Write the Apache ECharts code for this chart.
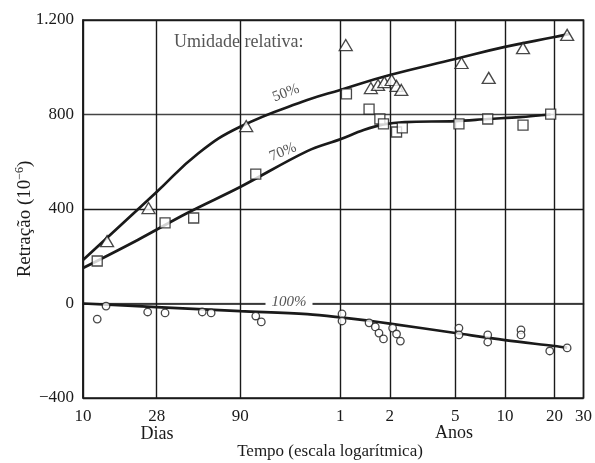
<!DOCTYPE html>
<html>
<head>
<meta charset="utf-8">
<script src="https://cdn.jsdelivr.net/npm/echarts@6/dist/echarts.min.js"></script>
<style>
  html, body { margin: 0; background: #fff; }
  #chart { width: 595px; height: 463px; }
</style>
</head>
<body>
<div id="chart"></div>
<script>
// tempo em dias (eixo logarítmico)
const xTickValues = [10, 28, 90, 365, 730, 1825, 3650, 7300, 10950];
const xTickLabels = ["10", "28", "90", "1", "2", "5", "10", "20", "30"];
const yTickValues = [-400, 0, 400, 800, 1200];
const yTickLabels = ["\u2212400", "0", "400", "800", "1.200"];

// pontos medidos [dias, retração]
const tri50 = [
  [14, 264], [25, 404], [98, 751], [394, 1094], [560, 912], [619, 925],
  [676, 937], [749, 946], [802, 921], [857, 904], [1990, 1018], [2910, 955],
  [4700, 1081], [8710, 1137],
];
const sq70 = [
  [12.2, 180], [31.5, 341], [47, 362], [112, 548], [398, 887], [546, 823],
  [635, 781], [668, 760], [802, 726], [869, 743], [1919, 760], [2870, 781],
  [4700, 755], [6920, 802],
];
const circ100 = [
  [12.2, -66], [13.8, -11], [24.7, -36], [31.5, -40], [53, -36], [60, -40],
  [112, -53], [121, -78], [374, -44], [374, -74], [546, -82], [596, -99],
  [627, -125], [668, -150], [759, -104], [802, -129], [846, -159],
  [1919, -104], [1919, -133], [2870, -133], [2870, -163], [4570, -112],
  [4570, -133], [6830, -201], [8710, -188],
];

// curvas ajustadas
const curve50 = [
  [10, 184], [28, 472], [50, 635], [90, 748], [230, 861], [365, 904],
  [730, 967], [1825, 1035], [3650, 1086], [7300, 1128], [9020, 1141],
];
const curve70 = [
  [10, 150], [21.5, 269], [43, 383], [90, 493], [230, 645], [365, 695],
  [506, 734], [668, 758], [900, 768], [1825, 772], [2870, 781],
  [4500, 789], [6920, 800],
];
const curve100 = [
  [10, 0], [28, -15], [90, -32], [230, -45], [365, -59], [730, -85],
  [1825, -125], [3650, -155], [7300, -180], [8710, -187],
];

const serif = "Liberation Serif";
const ink = "#1a1a1a";

function xLabel(v) {
  let best = 0;
  xTickValues.forEach((t, i) => {
    if (Math.abs(Math.log(t / v)) < Math.abs(Math.log(xTickValues[best] / v))) best = i;
  });
  return xTickLabels[best];
}

const markerStyle = { color: "#fff", borderColor: ink, borderWidth: 1.3 };
const curveStyle = { color: ink, width: 2.7 };

const chart = echarts.init(document.getElementById("chart"));
chart.setOption({
  animation: false,
  grid: {
    left: 83, right: 11, top: 20, bottom: 65,
    show: true, borderColor: ink, borderWidth: 1.5, backgroundColor: "transparent",
  },
  xAxis: {
    type: "log",
    logBase: 10,
    min: 10,
    max: 10950,
    axisLine: { show: true, lineStyle: { color: ink, width: 1.5 } },
    axisTick: { show: false, customValues: xTickValues },
    axisLabel: {
      customValues: xTickValues,
      formatter: xLabel,
      color: ink, fontFamily: serif, fontSize: 17, margin: 10,
    },
    splitLine: { show: true, lineStyle: { color: ink, width: 1.4 } },
    minorTick: { show: false },
    minorSplitLine: { show: false },
  },
  yAxis: {
    type: "value",
    min: -400,
    max: 1200,
    interval: 400,
    axisLine: { show: true, lineStyle: { color: ink, width: 1.5 } },
    axisTick: { show: false },
    axisLabel: {
      formatter: (v) => yTickLabels[yTickValues.indexOf(v)],
      color: ink, fontFamily: serif, fontSize: 17, margin: 9,
    },
    splitLine: {
      show: true,
      lineStyle: { color: [ink, "#9a9a9a", ink, "#444", ink], width: 1.4 },
    },
  },
  graphic: [
    {
      type: "text", left: 174, top: 33, z: 1,
      style: { text: "Umidade relativa:", fill: "#555", font: "18px " + serif },
    },
    {
      type: "text", x: 286, y: 93, rotation: 0.36, z: 1,
      style: { text: "50%", fill: "#555", font: "15px " + serif, align: "center", verticalAlign: "middle" },
    },
    {
      type: "text", x: 283, y: 152, rotation: 0.4, z: 1,
      style: { text: "70%", fill: "#555", font: "15px " + serif, align: "center", verticalAlign: "middle" },
    },
    {
      type: "text", x: 289, y: 302, z: 1,
      style: {
        text: "100%", fill: "#555", font: "italic 15px " + serif,
        align: "center", verticalAlign: "middle",
        backgroundColor: "#fff", padding: [0, 6, 0, 6],
      },
    },
    {
      type: "text", x: 25, y: 219, rotation: Math.PI / 2, z: 1,
      style: {
        text: "{b|Retração (10}{s|\u22126}{b|)}",
        align: "center", verticalAlign: "middle",
        rich: {
          b: { fill: ink, fontFamily: serif, fontSize: 19 },
          s: { fill: ink, fontFamily: serif, fontSize: 12, padding: [0, 0, 10, 0] },
        },
      },
    },
    {
      type: "text", x: 157, y: 434, z: 1,
      style: { text: "Dias", fill: ink, font: "18px " + serif, align: "center", verticalAlign: "middle" },
    },
    {
      type: "text", x: 454, y: 433, z: 1,
      style: { text: "Anos", fill: ink, font: "18px " + serif, align: "center", verticalAlign: "middle" },
    },
    {
      type: "text", x: 330, y: 452, z: 1,
      style: { text: "Tempo (escala logarítmica)", fill: ink, font: "17px " + serif, align: "center", verticalAlign: "middle" },
    },
  ],
  series: [
    { name: "50%", type: "line", data: curve50, smooth: 0.45, symbol: "none", lineStyle: curveStyle, z: 3 },
    { name: "70%", type: "line", data: curve70, smooth: 0.35, symbol: "none", lineStyle: curveStyle, z: 3 },
    { name: "100%", type: "line", data: curve100, smooth: 0.35, symbol: "none", lineStyle: curveStyle, z: 3 },
    { name: "50% pontos", type: "scatter", data: tri50, symbol: "triangle", symbolSize: [13, 11], itemStyle: markerStyle, z: 4 },
    { name: "70% pontos", type: "scatter", data: sq70, symbol: "rect", symbolSize: 10, itemStyle: markerStyle, z: 4 },
    { name: "100% pontos", type: "scatter", data: circ100, symbol: "circle", symbolSize: 7.5, itemStyle: markerStyle, z: 4 },
  ],
});
</script>
</body>
</html>
